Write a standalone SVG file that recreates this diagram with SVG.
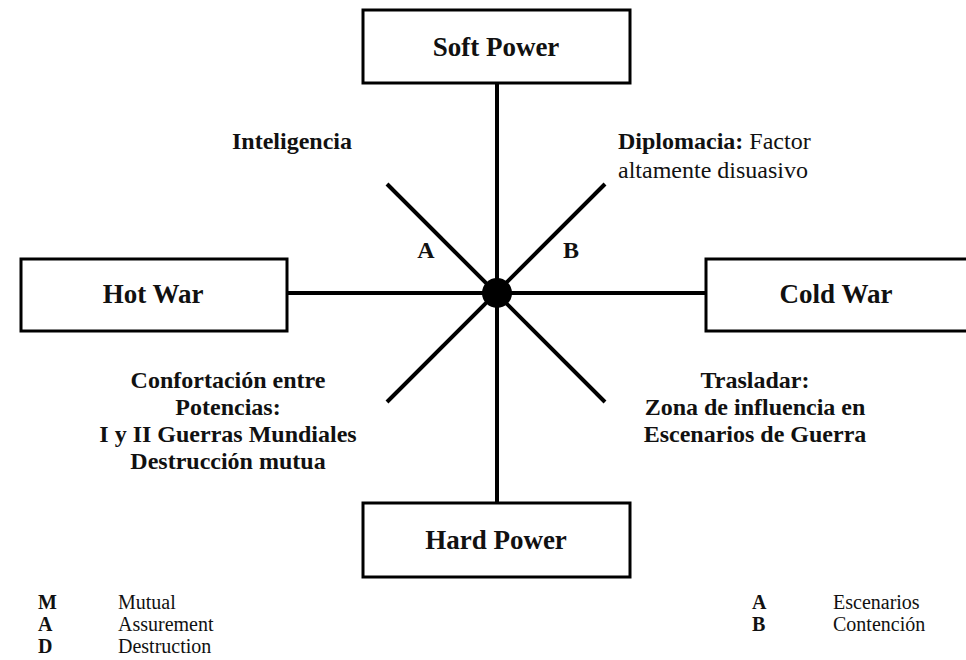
<svg xmlns="http://www.w3.org/2000/svg" width="966" height="660" viewBox="0 0 966 660">
<style>
.box{fill:#fff;stroke:#000;stroke-width:3}
.ln{stroke:#000;stroke-width:4;fill:none}
text{font-family:'Liberation Serif','DejaVu Serif',serif;fill:#111}
.bl{font-size:27px;font-weight:bold;text-anchor:middle}
.an{font-size:24px;font-weight:bold}
.c{text-anchor:middle}
.lg{font-size:20px}
.lgb{font-size:20px;font-weight:bold}
.n{font-weight:normal}
</style>
<rect width="966" height="660" fill="#fff"/>
<g id="connectors">
<line class="ln" x1="497" y1="83" x2="497" y2="503"/>
<line class="ln" x1="287" y1="293" x2="706" y2="293"/>
<line class="ln" x1="387" y1="184" x2="605" y2="402"/>
<line class="ln" x1="605" y1="184" x2="387" y2="402"/>
<circle cx="497" cy="293" r="15" fill="#000"/>
</g>
<g id="soft-power"><rect class="box" x="363" y="10" width="267" height="73"/><text class="bl" x="496" y="56">Soft Power</text></g>
<g id="hot-war"><rect class="box" x="21" y="259" width="266" height="72"/><text class="bl" x="153" y="303">Hot War</text></g>
<g id="cold-war"><rect class="box" x="706" y="259" width="266" height="72"/><text class="bl" x="836" y="303">Cold War</text></g>
<g id="hard-power"><rect class="box" x="363" y="503" width="267" height="74"/><text class="bl" x="496" y="549">Hard Power</text></g>
<g id="labels">
<text class="an" x="232" y="149">Inteligencia</text>
<text class="an" x="618" y="149">Diplomacia: <tspan class="n">Factor</tspan></text>
<text class="an n" x="618" y="178">altamente disuasivo</text>
<text class="an c" x="426" y="258">A</text>
<text class="an c" x="571" y="258">B</text>
<text class="an c" x="228" y="388">Confortación entre</text>
<text class="an c" x="228" y="415">Potencias:</text>
<text class="an c" x="228" y="442">I y II Guerras Mundiales</text>
<text class="an c" x="228" y="469">Destrucción mutua</text>
<text class="an c" x="755" y="388">Trasladar:</text>
<text class="an c" x="755" y="415">Zona de influencia en</text>
<text class="an c" x="755" y="442">Escenarios de Guerra</text>
</g>
<g id="legend">
<text class="lgb" x="38" y="609">M</text><text class="lg" x="118" y="609">Mutual</text>
<text class="lgb" x="38" y="631">A</text><text class="lg" x="118" y="631">Assurement</text>
<text class="lgb" x="38" y="653">D</text><text class="lg" x="118" y="653">Destruction</text>
<text class="lgb" x="752" y="609">A</text><text class="lg" x="833" y="609">Escenarios</text>
<text class="lgb" x="752" y="631">B</text><text class="lg" x="833" y="631">Contención</text>
</g>
</svg>
